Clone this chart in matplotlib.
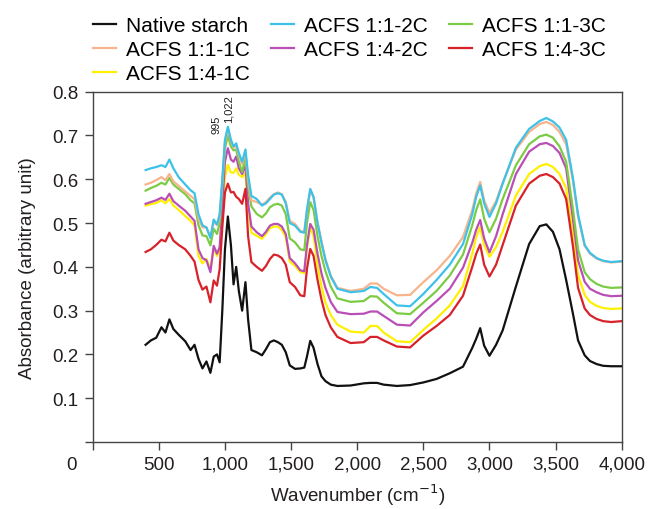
import matplotlib
matplotlib.use("Agg")
import matplotlib.pyplot as plt
from matplotlib.transforms import ScaledTranslation

plt.rcParams['font.family'] = ['Liberation Sans', 'DejaVu Sans']

wavenumber = [
    400, 440, 480, 520, 550, 580, 610, 650, 700, 740,
    770, 800, 830, 860, 890, 915, 940, 960, 980, 1000,
    1022, 1045, 1065, 1085, 1105, 1130, 1155, 1175, 1200, 1240,
    1280, 1310, 1340, 1370, 1400, 1430, 1460, 1490, 1530, 1570,
    1600, 1620, 1645, 1670, 1700, 1730, 1760, 1800, 1850, 1950,
    2050, 2100, 2150, 2200, 2300, 2400, 2500, 2600, 2700, 2800,
    2870, 2900, 2930, 2960, 3000, 3050, 3100, 3200, 3300, 3380,
    3430, 3480, 3530, 3580, 3630, 3670, 3720, 3760, 3810, 3860,
    3920, 4000]

native = [
    0.222, 0.232, 0.238, 0.262, 0.250, 0.280, 0.258, 0.245, 0.230, 0.210,
    0.222, 0.190, 0.168, 0.184, 0.158, 0.195, 0.200, 0.182, 0.300, 0.440,
    0.515, 0.450, 0.360, 0.400, 0.345, 0.300, 0.365, 0.280, 0.210, 0.205,
    0.198, 0.212, 0.228, 0.232, 0.228, 0.222, 0.205, 0.175, 0.167, 0.168,
    0.170, 0.195, 0.231, 0.215, 0.178, 0.150, 0.139, 0.131, 0.128, 0.129,
    0.134, 0.135, 0.135, 0.131, 0.128, 0.130, 0.136, 0.144, 0.157, 0.172,
    0.215, 0.236, 0.260, 0.220, 0.197, 0.222, 0.255, 0.355, 0.452, 0.493,
    0.497, 0.480, 0.440, 0.370, 0.295, 0.232, 0.198, 0.185, 0.178, 0.174,
    0.173, 0.173]

acfs_11_1c = [
    0.588, 0.592, 0.598, 0.605, 0.598, 0.612, 0.595, 0.585, 0.572, 0.562,
    0.555, 0.510, 0.490, 0.490, 0.468, 0.503, 0.495, 0.515, 0.595, 0.685,
    0.715, 0.688, 0.672, 0.678, 0.655, 0.635, 0.662, 0.600, 0.552, 0.548,
    0.542, 0.548, 0.558, 0.566, 0.570, 0.566, 0.548, 0.505, 0.498, 0.482,
    0.480, 0.528, 0.575, 0.558, 0.502, 0.458, 0.418, 0.380, 0.352, 0.345,
    0.350, 0.362, 0.362, 0.350, 0.335, 0.336, 0.365, 0.392, 0.425, 0.468,
    0.530, 0.568, 0.594, 0.552, 0.523, 0.550, 0.592, 0.668, 0.708, 0.726,
    0.731, 0.724, 0.708, 0.680, 0.598, 0.515, 0.448, 0.430, 0.419, 0.413,
    0.410, 0.412]

acfs_14_1c = [
    0.540, 0.543, 0.546, 0.552, 0.545, 0.555, 0.540, 0.530, 0.516, 0.505,
    0.495, 0.425, 0.408, 0.418, 0.395, 0.441, 0.425, 0.440, 0.520, 0.605,
    0.633, 0.615, 0.615, 0.625, 0.610, 0.605, 0.615, 0.530, 0.478, 0.471,
    0.464, 0.475, 0.488, 0.492, 0.492, 0.484, 0.468, 0.412, 0.402, 0.388,
    0.386, 0.442, 0.490, 0.470, 0.405, 0.355, 0.318, 0.290, 0.268, 0.252,
    0.250, 0.265, 0.265, 0.250, 0.230, 0.228, 0.256, 0.282, 0.312, 0.356,
    0.430, 0.468, 0.491, 0.450, 0.423, 0.445, 0.480, 0.563, 0.612, 0.630,
    0.635, 0.628, 0.612, 0.580, 0.475, 0.382, 0.336, 0.320, 0.311, 0.306,
    0.304, 0.305]

acfs_11_2c = [
    0.621, 0.625, 0.628, 0.632, 0.628, 0.645, 0.625, 0.605, 0.588, 0.575,
    0.568, 0.520, 0.495, 0.490, 0.466, 0.508, 0.497, 0.520, 0.600, 0.690,
    0.720, 0.690, 0.675, 0.682, 0.660, 0.640, 0.668, 0.610, 0.562, 0.555,
    0.540, 0.545, 0.555, 0.565, 0.568, 0.565, 0.545, 0.500, 0.494, 0.480,
    0.478, 0.530, 0.578, 0.560, 0.500, 0.455, 0.415, 0.378, 0.350, 0.342,
    0.345, 0.354, 0.352, 0.338, 0.312, 0.310, 0.338, 0.370, 0.405, 0.452,
    0.520, 0.560, 0.586, 0.545, 0.514, 0.545, 0.590, 0.672, 0.715, 0.733,
    0.740, 0.732, 0.718, 0.690, 0.605, 0.520, 0.450, 0.432, 0.420, 0.414,
    0.411, 0.413]

acfs_14_2c = [
    0.544, 0.548, 0.552, 0.558, 0.553, 0.567, 0.550, 0.540, 0.528, 0.515,
    0.505, 0.440, 0.420, 0.415, 0.388, 0.448, 0.430, 0.445, 0.540, 0.640,
    0.671, 0.645, 0.640, 0.652, 0.625, 0.612, 0.632, 0.545, 0.492, 0.479,
    0.470, 0.480, 0.494, 0.498, 0.498, 0.492, 0.475, 0.420, 0.408, 0.392,
    0.390, 0.450, 0.498, 0.485, 0.430, 0.385, 0.352, 0.320, 0.297, 0.292,
    0.293, 0.298, 0.298, 0.288, 0.268, 0.266, 0.296, 0.322, 0.350, 0.398,
    0.455, 0.485, 0.507, 0.465, 0.433, 0.470, 0.520, 0.612, 0.663, 0.680,
    0.683, 0.676, 0.660, 0.625, 0.512, 0.415, 0.366, 0.350, 0.342, 0.336,
    0.333, 0.334]

acfs_11_3c = [
    0.574, 0.580, 0.585, 0.592, 0.588, 0.603, 0.588, 0.578, 0.566, 0.552,
    0.545, 0.495, 0.472, 0.470, 0.449, 0.487, 0.475, 0.500, 0.585, 0.670,
    0.700, 0.675, 0.666, 0.668, 0.640, 0.617, 0.650, 0.585, 0.538, 0.521,
    0.513, 0.522, 0.536, 0.542, 0.544, 0.540, 0.520, 0.465, 0.456, 0.440,
    0.438, 0.500, 0.548, 0.530, 0.470, 0.425, 0.390, 0.355, 0.328, 0.320,
    0.322, 0.333, 0.332, 0.318, 0.294, 0.292, 0.318, 0.345, 0.380, 0.428,
    0.495, 0.530, 0.554, 0.510, 0.479, 0.510, 0.555, 0.632, 0.680, 0.698,
    0.702, 0.695, 0.675, 0.640, 0.535, 0.440, 0.388, 0.372, 0.361, 0.355,
    0.352, 0.353]

acfs_14_3c = [
    0.434, 0.440, 0.450, 0.462, 0.458, 0.478, 0.460, 0.450, 0.440, 0.425,
    0.412, 0.370, 0.348, 0.355, 0.319, 0.369, 0.357, 0.395, 0.490, 0.570,
    0.590, 0.570, 0.571, 0.560, 0.555, 0.544, 0.578, 0.470, 0.411, 0.400,
    0.391, 0.402, 0.418, 0.428, 0.426, 0.420, 0.405, 0.365, 0.354, 0.335,
    0.333, 0.395, 0.441, 0.425, 0.370, 0.325, 0.290, 0.262, 0.240, 0.226,
    0.228, 0.240, 0.240, 0.232, 0.218, 0.216, 0.243, 0.265, 0.290, 0.334,
    0.400, 0.430, 0.451, 0.405, 0.378, 0.405, 0.450, 0.540, 0.590, 0.608,
    0.612, 0.605, 0.590, 0.555, 0.450, 0.352, 0.305, 0.290, 0.281, 0.276,
    0.274, 0.276]

series_labels = ['Native starch', 'ACFS 1:1-1C', 'ACFS 1:4-1C', 'ACFS 1:1-2C',
                 'ACFS 1:4-2C', 'ACFS 1:1-3C', 'ACFS 1:4-3C']
series_values = [native, acfs_11_1c, acfs_14_1c, acfs_11_2c,
                 acfs_14_2c, acfs_11_3c, acfs_14_3c]
series_colors = ['#111111', '#F7B48C', '#FFF000', '#3EC1E8',
                 '#B94FB6', '#7CCB45', '#D8222A']
draw_order = [2, 4, 5, 6, 1, 3, 0]

x_ticks = [0, 500, 1000, 1500, 2000, 2500, 3000, 3500, 4000]
x_ticklabels = ['0', '500', '1,000', '1,500', '2,000', '2,500', '3,000', '3,500', '4,000']
y_ticks = [0, 0.1, 0.2, 0.3, 0.4, 0.5, 0.6, 0.7, 0.8]
y_ticklabels = ['', '0.1', '0.2', '0.3', '0.4', '0.5', '0.6', '0.7', '0.8']

peak_labels = ['995', '1,022']
peak_x = [934, 1024]
peak_y = [0.706, 0.731]

fig = plt.figure(figsize=(6.51, 5.10), dpi=100)
ax = fig.add_axes([92.7 / 651, 1 - 443 / 510, (621.7 - 92.7) / 651, (443 - 92.7) / 510])

handles = {}
for i in draw_order:
    ln, = ax.plot(wavenumber, series_values[i], color=series_colors[i], lw=1.6,
                  label=series_labels[i], zorder=2 + (i == 0))
    handles[i] = ln

ax.set_xlim(0, 4000)
ax.set_ylim(0, 0.8)
ax.set_xticks(x_ticks)
ax.set_xticklabels(x_ticklabels)
ax.set_yticks(y_ticks)
ax.set_yticklabels(y_ticklabels)

spine_col = '#444444'
for s in ax.spines.values():
    s.set_color(spine_col)
    s.set_linewidth(1.0)
ax.tick_params(direction='out', length=6, width=1.0, color=spine_col,
               labelsize=13.5, labelcolor='#231f20', pad=4)

# shift the "0" x tick label to the left (shared origin label)
lbl0 = ax.get_xticklabels()[0]
lbl0.set_transform(lbl0.get_transform() + ScaledTranslation(-0.21, 0, fig.dpi_scale_trans))

ax.set_xlabel('Wavenumber (cm$^{-1}$)', fontsize=13.5, color='#231f20', labelpad=6)
ax.set_ylabel('Absorbance (arbitrary unit)', fontsize=13.5, color='#231f20', labelpad=12)

for t, xx, yy in zip(peak_labels, peak_x, peak_y):
    ax.text(xx, yy, t, rotation=90, ha='center', va='bottom', fontsize=8, color='#231f20')

fig.legend([handles[i] for i in range(7)], series_labels, loc='upper left',
           bbox_to_anchor=(93 / 651, 1 - 17 / 510), ncol=3, frameon=False,
           fontsize=15, handlelength=1.1, handletextpad=0.5, columnspacing=1.0,
           labelspacing=0.25, borderpad=0, borderaxespad=0)

fig.savefig('out.png', dpi=100)
